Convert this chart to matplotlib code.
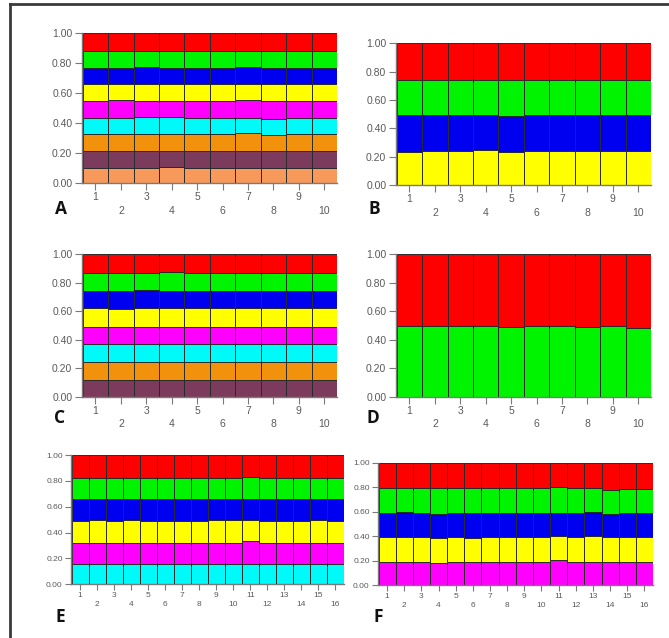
import matplotlib
matplotlib.use("Agg")
import matplotlib.pyplot as plt
import numpy as np
from matplotlib.lines import Line2D

# ---------------- data ----------------
samples10 = list(range(1, 11))
samples16 = list(range(1, 17))
ytick_vals = [0.0, 0.2, 0.4, 0.6, 0.8, 1.0]
ytick_labels = ["0.00", "0.20", "0.40", "0.60", "0.80", "1.00"]

# Panel A (K=9), bottom -> top
A_salmon  = [0.105, 0.104, 0.104, 0.106, 0.104, 0.105, 0.104, 0.104, 0.105, 0.104]
A_maroon  = [0.111, 0.112, 0.112, 0.110, 0.112, 0.111, 0.112, 0.111, 0.110, 0.112]
A_orange  = [0.112, 0.111, 0.112, 0.112, 0.111, 0.112, 0.122, 0.110, 0.112, 0.111]
A_cyan    = [0.110, 0.111, 0.111, 0.111, 0.111, 0.110, 0.100, 0.107, 0.111, 0.111]
A_magenta = [0.112, 0.118, 0.110, 0.111, 0.110, 0.112, 0.118, 0.116, 0.110, 0.111]
A_yellow  = [0.111, 0.104, 0.111, 0.110, 0.111, 0.110, 0.104, 0.112, 0.111, 0.111]
A_blue    = [0.107, 0.107, 0.117, 0.108, 0.107, 0.107, 0.117, 0.107, 0.108, 0.107]
A_green   = [0.117, 0.117, 0.107, 0.117, 0.118, 0.117, 0.107, 0.117, 0.117, 0.117]
A_red     = [0.115, 0.116, 0.116, 0.115, 0.116, 0.116, 0.116, 0.116, 0.116, 0.116]

# Panel B (K=4)
B_yellow = [0.235, 0.240, 0.240, 0.250, 0.230, 0.240, 0.240, 0.240, 0.240, 0.240]
B_blue   = [0.259, 0.254, 0.254, 0.244, 0.257, 0.254, 0.254, 0.254, 0.254, 0.254]
B_green  = [0.247, 0.247, 0.244, 0.247, 0.254, 0.247, 0.247, 0.247, 0.247, 0.247]
B_red    = [0.259, 0.259, 0.262, 0.259, 0.259, 0.259, 0.259, 0.259, 0.259, 0.259]

# Panel C (K=8)
C_maroon  = [0.117, 0.118, 0.117, 0.118, 0.117, 0.117, 0.118, 0.117, 0.117, 0.117]
C_orange  = [0.123, 0.122, 0.124, 0.123, 0.123, 0.124, 0.122, 0.123, 0.124, 0.123]
C_cyan    = [0.127, 0.126, 0.126, 0.125, 0.127, 0.126, 0.127, 0.126, 0.126, 0.127]
C_magenta = [0.123, 0.122, 0.124, 0.124, 0.123, 0.123, 0.124, 0.124, 0.123, 0.123]
C_yellow  = [0.129, 0.130, 0.128, 0.129, 0.129, 0.130, 0.128, 0.130, 0.129, 0.129]
C_blue    = [0.124, 0.124, 0.127, 0.122, 0.124, 0.124, 0.125, 0.124, 0.125, 0.124]
C_green   = [0.126, 0.126, 0.123, 0.131, 0.126, 0.125, 0.126, 0.125, 0.125, 0.126]
C_red     = [0.131, 0.132, 0.131, 0.128, 0.131, 0.131, 0.130, 0.131, 0.131, 0.131]

# Panel D (K=2)
D_green = [0.495, 0.495, 0.495, 0.495, 0.487, 0.495, 0.495, 0.488, 0.495, 0.479]
D_red   = [0.505, 0.505, 0.505, 0.505, 0.513, 0.505, 0.505, 0.512, 0.505, 0.521]

# Panel E (K=6)
E_cyan    = [0.157, 0.158, 0.157, 0.157, 0.158, 0.157, 0.157, 0.158, 0.157, 0.157, 0.158, 0.157, 0.157, 0.158, 0.157, 0.157]
E_magenta = [0.165, 0.164, 0.165, 0.165, 0.164, 0.165, 0.165, 0.164, 0.165, 0.165, 0.177, 0.165, 0.165, 0.164, 0.165, 0.165]
E_yellow  = [0.170, 0.176, 0.170, 0.176, 0.170, 0.170, 0.170, 0.170, 0.172, 0.172, 0.163, 0.170, 0.170, 0.170, 0.176, 0.170]
E_blue    = [0.165, 0.159, 0.165, 0.159, 0.165, 0.165, 0.165, 0.165, 0.163, 0.163, 0.160, 0.165, 0.165, 0.165, 0.159, 0.170]
E_green   = [0.168, 0.168, 0.168, 0.168, 0.168, 0.168, 0.168, 0.168, 0.168, 0.168, 0.168, 0.168, 0.168, 0.168, 0.168, 0.163]
E_red     = [0.175, 0.175, 0.175, 0.175, 0.175, 0.175, 0.175, 0.175, 0.175, 0.175, 0.174, 0.175, 0.175, 0.175, 0.175, 0.175]

# Panel F (K=5)
F_magenta = [0.191, 0.191, 0.191, 0.183, 0.191, 0.191, 0.191, 0.191, 0.191, 0.191, 0.204, 0.191, 0.191, 0.191, 0.191, 0.191]
F_yellow  = [0.204, 0.204, 0.204, 0.204, 0.199, 0.190, 0.204, 0.199, 0.199, 0.199, 0.197, 0.199, 0.210, 0.199, 0.199, 0.199]
F_blue    = [0.196, 0.204, 0.191, 0.193, 0.196, 0.205, 0.196, 0.196, 0.196, 0.196, 0.185, 0.196, 0.198, 0.190, 0.196, 0.196]
F_green   = [0.199, 0.191, 0.204, 0.210, 0.204, 0.204, 0.199, 0.204, 0.204, 0.204, 0.218, 0.204, 0.197, 0.197, 0.199, 0.199]
F_red     = [0.210, 0.210, 0.210, 0.210, 0.210, 0.210, 0.210, 0.210, 0.210, 0.210, 0.196, 0.210, 0.204, 0.223, 0.215, 0.215]

# ---------------- style ----------------
RED, GREEN, BLUE = "#fe0000", "#00f400", "#0000f0"
YELLOW, MAGENTA, CYAN = "#ffff00", "#ff00ff", "#00fafa"
ORANGE, MAROON, SALMON = "#f2920c", "#7c3b5c", "#f7995a"

W, H = 669, 638
fig = plt.figure(figsize=(W / 100, H / 100), dpi=100)
fig.patch.set_facecolor("white")

TXT = "#5a5a5a"
AX = "#7a7a7a"


def make_ax(x0, x1, ytop, ybot):
    return fig.add_axes([x0 / W, 1 - ybot / H, (x1 - x0) / W, (ybot - ytop) / H])


def draw_panel(ax, samples, layers, colors, fs, linesp, ticklen):
    x = np.array(samples)
    bottom = np.zeros(len(samples))
    for vals, col in zip(layers, colors):
        v = np.array(vals)
        ax.bar(x, v, bottom=bottom, width=1.0, color=col,
               edgecolor="#2b2b2b", linewidth=0.7)
        bottom += v
    ax.set_xlim(samples[0] - 0.53, samples[-1] + 0.5)
    ax.set_ylim(0, 1.0)
    ax.set_yticks(ytick_vals)
    ax.set_yticklabels(ytick_labels)
    ax.set_xticks(samples)
    ax.set_xticklabels([str(s) if s % 2 == 1 else "\n" + str(s) for s in samples],
                       linespacing=linesp)
    for sp in ["top", "right"]:
        ax.spines[sp].set_visible(False)
    for sp in ["left", "bottom"]:
        ax.spines[sp].set_color(AX)
        ax.spines[sp].set_linewidth(1.0)
    ax.tick_params(axis="both", colors=AX, labelcolor=TXT, labelsize=fs,
                   length=ticklen, width=0.8, direction="out")
    ax.tick_params(axis="x", pad=1.5)
    ax.tick_params(axis="y", pad=2)
    ax.set_facecolor("white")
    for lab in ax.get_xticklabels() + ax.get_yticklabels():
        lab.set_fontfamily("Liberation Sans")


axA = make_ax(82, 337, 33.3, 183.3)
draw_panel(axA, samples10,
           [A_salmon, A_maroon, A_orange, A_cyan, A_magenta, A_yellow, A_blue, A_green, A_red],
           [SALMON, MAROON, ORANGE, CYAN, MAGENTA, YELLOW, BLUE, GREEN, RED], 7.5, 1.45, 5)

axB = make_ax(396, 651, 43.3, 185)
draw_panel(axB, samples10, [B_yellow, B_blue, B_green, B_red],
           [YELLOW, BLUE, GREEN, RED], 7.5, 1.45, 5)

axC = make_ax(82, 337, 254, 396.7)
draw_panel(axC, samples10,
           [C_maroon, C_orange, C_cyan, C_magenta, C_yellow, C_blue, C_green, C_red],
           [MAROON, ORANGE, CYAN, MAGENTA, YELLOW, BLUE, GREEN, RED], 7.5, 1.45, 5)

axD = make_ax(396, 651, 254, 396.7)
draw_panel(axD, samples10, [D_green, D_red], [GREEN, RED], 7.5, 1.45, 5)

axE = make_ax(71, 344, 455, 584.3)
draw_panel(axE, samples16, [E_cyan, E_magenta, E_yellow, E_blue, E_green, E_red],
           [CYAN, MAGENTA, YELLOW, BLUE, GREEN, RED], 6, 1.5, 4)

axF = make_ax(378, 653, 462.7, 585)
draw_panel(axF, samples16, [F_magenta, F_yellow, F_blue, F_green, F_red],
           [MAGENTA, YELLOW, BLUE, GREEN, RED], 6, 1.5, 4)

# panel letters
for letter, px, py in [("A", 61, 209), ("B", 374, 209), ("C", 60, 418),
                       ("D", 373, 418), ("E", 60, 617), ("F", 378, 617)]:
    fig.text(px / W, 1 - py / H, letter, fontsize=12.5, fontweight="bold",
             family="Open Sans", color="#111111", ha="center", va="center")

# outer frame (left and top edges)
fig.add_artist(Line2D([10 / W, 10 / W], [0, 1 - 4 / H], transform=fig.transFigure,
                      color="#3a3a3a", linewidth=2.0))
fig.add_artist(Line2D([10 / W, 1], [1 - 4 / H, 1 - 4 / H], transform=fig.transFigure,
                      color="#3a3a3a", linewidth=2.0))

fig.savefig("out.png", dpi=100, facecolor="white")
